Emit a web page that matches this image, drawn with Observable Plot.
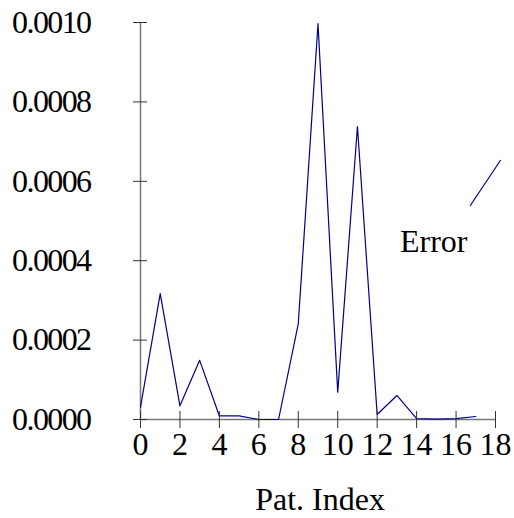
<!DOCTYPE html>
<html>
<head>
<meta charset="utf-8">
<script src="https://cdn.jsdelivr.net/npm/d3@7"></script>
<script src="https://cdn.jsdelivr.net/npm/@observablehq/plot@0.6"></script>
<style>
  html, body { margin: 0; padding: 0; background: #fff; }
  #chart svg { display: block; }
</style>
</head>
<body>
<div id="chart"></div>
<script>
const patIndex = [0, 1, 2, 3, 4, 5, 6, 7, 8, 9, 10, 11, 12, 13, 14, 15, 16, 17];
const errorValues = [0.000031, 0.000317, 0.0000345, 0.000149, 0.000009, 0.000009, 0.0, 0.0, 0.000241, 0.000997, 0.0000688, 0.000738, 0.0000126, 0.0000605, 0.000002, 0.000001, 0.000002, 0.0000075];
const xTicks = [0, 2, 4, 6, 8, 10, 12, 14, 16, 18];
const yTicks = [0, 0.0002, 0.0004, 0.0006, 0.0008, 0.001];
const yTickLabels = ["0.0000", "0.0002", "0.0004", "0.0006", "0.0008", "0.0010"];
const xLabel = "Pat. Index";
const seriesName = "Error";

const data = patIndex.map((p, i) => ({index: p, error: errorValues[i]}));

const plot = Plot.plot({
  width: 514,
  height: 518,
  marginLeft: 140,
  marginRight: 19,
  marginTop: 22,
  marginBottom: 99,
  style: {fontFamily: "'Liberation Serif', 'Times New Roman', serif", fontSize: "32px", color: "#000", background: "#fff"},
  x: {domain: [0, 18]},
  y: {domain: [0, 0.001]},
  marks: [
    Plot.ruleX([0], {stroke: "#777", strokeWidth: 1.5}),
    Plot.ruleY([0], {stroke: "#777", strokeWidth: 1.5}),
    Plot.line(data, {x: "index", y: "error", stroke: "#000088", strokeWidth: 1.2}),
    Plot.axisY({ticks: yTicks, tickFormat: (d) => yTickLabels[yTicks.indexOf(d)], tickSize: 14, insetLeft: 7, tickPadding: 43, stroke: "#333", fontSize: 32, label: null}),
    Plot.axisX({ticks: xTicks, tickSize: 17, insetBottom: 8, tickPadding: 4, stroke: "#333", fontSize: 32, label: null}),
    Plot.text([xLabel], {frameAnchor: "bottom", dy: 90, lineAnchor: "bottom", fontSize: 32, dx: 2})
  ]
});

document.getElementById("chart").appendChild(plot);

// tighten y tick label spacing
d3.select(plot).selectAll('g[aria-label="y-axis tick label"] text').attr("letter-spacing", "-1.6px");

// legend
const svg = d3.select(plot);
const lg = svg.append("g").attr("aria-label", "legend").attr("text-anchor", "start");
lg.append("line")
  .attr("x1", 470).attr("y1", 206).attr("x2", 500.7).attr("y2", 160)
  .attr("stroke", "#000088").attr("stroke-width", 1.2);
lg.append("text")
  .attr("x", 400).attr("y", 252)
  .attr("text-anchor", "start")
  .attr("font-size", 32)
  .attr("fill", "#000")
  .text(seriesName);
</script>
</body>
</html>
